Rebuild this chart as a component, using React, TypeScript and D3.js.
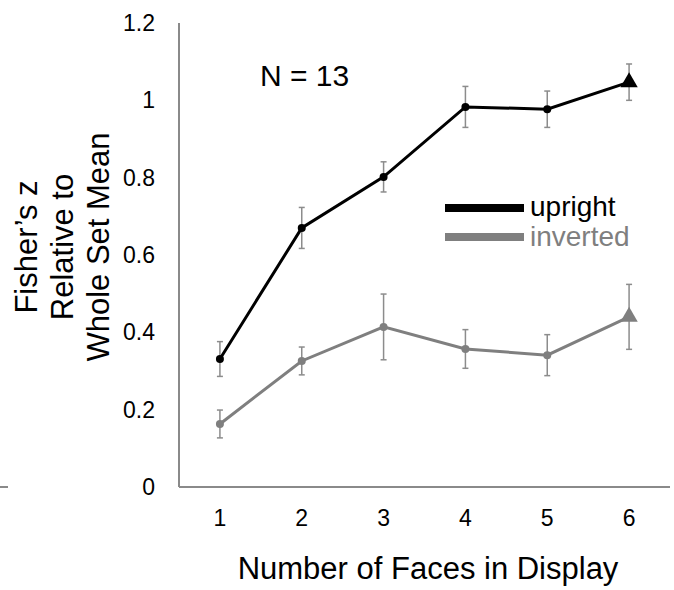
import React from "react";
import * as d3 from "d3";

const categories = [1, 2, 3, 4, 5, 6];
const uprightMean = [0.331, 0.67, 0.802, 0.983, 0.977, 1.047];
const uprightErr = [0.045, 0.053, 0.039, 0.053, 0.047, 0.047];
const invertedMean = [0.163, 0.326, 0.414, 0.357, 0.341, 0.44];
const invertedErr = [0.036, 0.036, 0.085, 0.05, 0.053, 0.084];
const yTicks = [0, 0.2, 0.4, 0.6, 0.8, 1, 1.2];

const W = 674;
const H = 590;
const FONT = "'Liberation Sans', Arial, Helvetica, sans-serif";

export default function App() {
  const x = d3.scaleBand<number>().domain(categories).range([179, 670]);
  const cx = (d: number) => (x(d) as number) + x.bandwidth() / 2;
  const y = d3.scaleLinear().domain([0, 1.2]).range([487, 23]);

  const line = d3
    .line<number>()
    .x((_, i) => cx(categories[i]))
    .y((v) => y(v));

  const tri = d3.symbol().type(d3.symbolTriangle).size(130)();

  const series = [
    { name: "upright", mean: uprightMean, err: uprightErr, color: "#000000" },
    { name: "inverted", mean: invertedMean, err: invertedErr, color: "#7f7f7f" },
  ];

  const errColor = "#8c8c8c";
  const axisColor = "#8a8a8a";

  return (
    <svg
      width={W}
      height={H}
      style={{ position: "absolute", left: 0, top: 0, background: "#fff" }}
      fontFamily={FONT}
    >
      {/* stray line at left */}
      <line x1={0} x2={8} y1={y(0)} y2={y(0)} stroke={axisColor} strokeWidth={2} />
      {/* axes */}
      <line x1={179} x2={179} y1={y(1.2)} y2={y(0)} stroke={axisColor} strokeWidth={2} />
      <line x1={179} x2={670} y1={y(0)} y2={y(0)} stroke={axisColor} strokeWidth={2} />

      {/* y tick labels */}
      {yTicks.map((t) => (
        <text
          key={t}
          x={155}
          y={y(t)}
          textAnchor="end"
          dominantBaseline="central"
          fontSize={23}
          fill="#000"
        >
          {t}
        </text>
      ))}
      {/* x tick labels */}
      {categories.map((c) => (
        <text
          key={c}
          x={cx(c)}
          y={518}
          textAnchor="middle"
          dominantBaseline="central"
          fontSize={23}
          fill="#000"
        >
          {c}
        </text>
      ))}

      {/* axis titles */}
      <text x={428} y={579} textAnchor="middle" fontSize={31} fill="#000">
        Number of Faces in Display
      </text>
      <g transform="translate(0,247) rotate(-90)">
        <text x={0} y={37} textAnchor="middle" fontSize={31} fill="#000">
          Fisher’s z
        </text>
        <text x={0} y={73} textAnchor="middle" fontSize={31} fill="#000">
          Relative to
        </text>
        <text x={0} y={109} textAnchor="middle" fontSize={31} fill="#000">
          Whole Set Mean
        </text>
      </g>

      <text x={260} y={86} fontSize={30} fill="#000">
        N = 13
      </text>

      {/* error bars */}
      {series.map((s) =>
        s.mean.map((m, i) => {
          const px = cx(categories[i]);
          const top = y(m + s.err[i]);
          const bot = y(m - s.err[i]);
          return (
            <g key={s.name + i} stroke={errColor} strokeWidth={1.5}>
              <line x1={px} x2={px} y1={top} y2={bot} />
              <line x1={px - 3} x2={px + 3} y1={top} y2={top} />
              <line x1={px - 3} x2={px + 3} y1={bot} y2={bot} />
            </g>
          );
        })
      )}

      {/* lines and markers */}
      {series.map((s) => (
        <g key={s.name}>
          <path d={line(s.mean) || ""} fill="none" stroke={s.color} strokeWidth={3} />
          {s.mean.map((m, i) =>
            i < s.mean.length - 1 ? (
              <circle key={i} cx={cx(categories[i])} cy={y(m)} r={4} fill={s.color} />
            ) : (
              <path
                key={i}
                d={tri || ""}
                transform={`translate(${cx(categories[i])},${y(m)})`}
                fill={s.color}
              />
            )
          )}
        </g>
      ))}

      {/* legend */}
      {series.map((s, i) => (
        <g key={"lg" + s.name}>
          <line
            x1={445}
            x2={524}
            y1={208 + i * 29}
            y2={208 + i * 29}
            stroke={s.color}
            strokeWidth={8}
          />
          <text x={530} y={216 + i * 30} fontSize={28} fill={s.color}>
            {s.name}
          </text>
        </g>
      ))}
    </svg>
  );
}
